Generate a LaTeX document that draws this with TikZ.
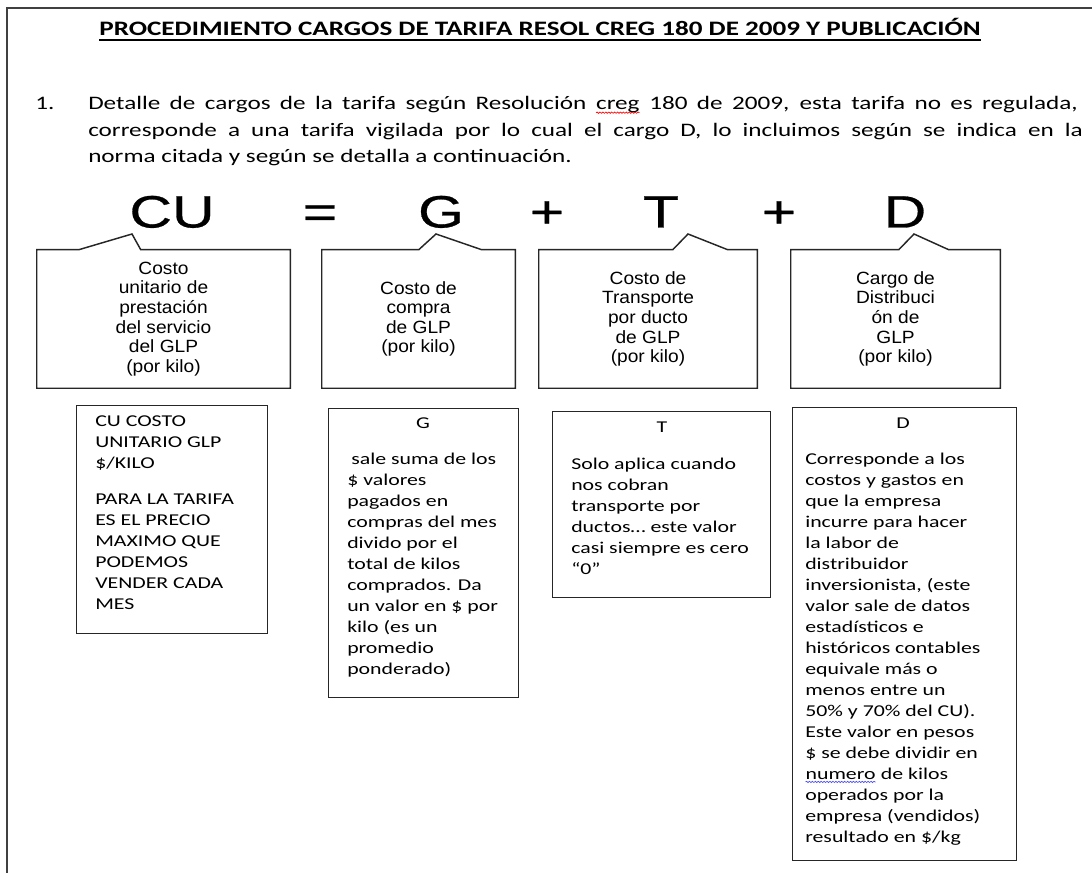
\documentclass[tikz,border=0pt]{standalone}
\usepackage{fontspec}
\setmainfont{Carlito}[FakeStretch=1.32]
\newfontfamily\calloutfont{Liberation Sans}[FakeStretch=1.08]
\newfontfamily\eqfont{Liberation Sans}[FakeStretch=1.3,FakeBold=0.6]
\usetikzlibrary{positioning,decorations.pathmorphing}

% wavy spell-check mark under a word
\newcommand\spellmark[2]{\tikz[baseline=(w.base)]{\node[inner sep=0pt,outer sep=0pt] (w) {#2};
  \draw[#1,line width=0.5pt,decorate,decoration={snake,amplitude=0.5pt,segment length=2.2pt}]
    ([yshift=-2pt]w.base west) -- ([yshift=-2pt]w.base east);}}

\begin{document}
\begin{tikzpicture}[x=0.75pt,y=-0.75pt,
    frame/.style={draw=black!75,line width=1.2pt},
    symb/.style={anchor=base,inner sep=0pt,font=\eqfont\fontsize{34}{34}\selectfont},
    callout/.style={align=center,inner sep=0pt,font=\calloutfont\fontsize{13.3}{14.7}\selectfont},
    calloutline/.style={draw=black!85,line width=1.1pt},
    notebox/.style={draw=black!85,line width=0.9pt,anchor=north west,inner sep=0pt},
    notehead/.style={anchor=base,inner sep=0pt,font=\fontsize{12.4}{15.75}\selectfont},
    notetext/.style={anchor=north west,align=left,inner sep=0pt,font=\fontsize{12.4}{15.75}\selectfont},
    partext/.style={anchor=base west,inner sep=0pt,font=\fontsize{14.3}{19.9}\selectfont}]

\useasboundingbox (0,0) rectangle (1092,873);
\draw[frame] (7,873) -- (7,8) -- (1092,8);

% title
\node[anchor=base,inner sep=0pt,font=\bfseries\fontsize{15.4}{18}\selectfont] (title) at (540,36)
  {PROCEDIMIENTO CARGOS DE TARIFA RESOL CREG 180 DE 2009 Y PUBLICACIÓN};
\draw[line width=0.8pt] ([yshift=-3pt]title.base west) -- ([yshift=-3pt]title.base east);

% point 1
\node[partext] (num) at (35,110) {1.};
\node[partext] (par1) at (88,110) {\makebox[742pt][s]{Detalle de cargos de la tarifa según Resolución \spellmark{red}{creg} 180 de 2009, esta tarifa no es regulada,}};
\node[partext] (par2) at (88,136.5) {\makebox[746pt][s]{corresponde a una tarifa vigilada por lo cual el cargo D, lo incluimos según se indica en la}};
\node[partext] (par3) at (88,163) {norma citada y según se detalla a continuación.};

% formula
\node[symb] (cuSym) at (172,227.5) {CU};
\node[symb] (eqSym) at (320,227.5) {=};
\node[symb] (gSym) at (441,227.5) {G};
\node[symb] (plusA) at (547,227.5) {+};
\node[symb] (tSym) at (661,227.5) {T};
\node[symb] (plusB) at (779,227.5) {+};
\node[symb] (dSym) at (905,227.5) {D};

% callouts
\node[callout,minimum width=189.75pt,minimum height=103.5pt] (cuCall) at (163.5,319)
  {Costo\\unitario de\\prestación\\del servicio\\del GLP\\(por kilo)};
\coordinate (cuTip) at (132,234);
\path (cuCall.north west) ++(42,0) coordinate (cuL) ++(62,0) coordinate (cuR);
\draw[calloutline] (cuCall.north west) -- (cuL) -- (cuTip) -- (cuR) -- (cuCall.north east)
  -- (cuCall.south east) -- (cuCall.south west) -- cycle;

\node[callout,minimum width=144.75pt,minimum height=103.5pt] (gCall) at (418.5,319)
  {Costo de\\compra\\de GLP\\(por kilo)};
\coordinate (gTip) at (436,234);
\path (gCall.north west) ++(97,0) coordinate (gL) ++(63,0) coordinate (gR);
\draw[calloutline] (gCall.north west) -- (gL) -- (gTip) -- (gR) -- (gCall.north east)
  -- (gCall.south east) -- (gCall.south west) -- cycle;

\node[callout,minimum width=163.5pt,minimum height=103.5pt] (tCall) at (648,319)
  {Costo de\\Transporte\\por ducto\\de GLP\\(por kilo)};
\coordinate (tTip) at (688,234);
\path (tCall.north west) ++(134,0) coordinate (tL) ++(55,0) coordinate (tR);
\draw[calloutline] (tCall.north west) -- (tL) -- (tTip) -- (tR) -- (tCall.north east)
  -- (tCall.south east) -- (tCall.south west) -- cycle;

\node[callout,minimum width=156.75pt,minimum height=103.5pt] (dCall) at (895.5,319)
  {Cargo de\\Distribuci\\ón de\\GLP\\(por kilo)};
\coordinate (dTip) at (914,234);
\path (dCall.north west) ++(108,0) coordinate (dL) ++(50,0) coordinate (dR);
\draw[calloutline] (dCall.north west) -- (dL) -- (dTip) -- (dR) -- (dCall.north east)
  -- (dCall.south east) -- (dCall.south west) -- cycle;

% notes
\node[notebox,minimum width=143.25pt,minimum height=171pt] (cuNote) at (76,405) {};
\node[notetext] (cuNoteText) at (95,415.5)
  {CU COSTO\\UNITARIO GLP\\\$/KILO\\[11.25pt]PARA LA TARIFA\\ES EL PRECIO\\MAXIMO QUE\\PODEMOS\\VENDER CADA\\MES};

\node[notebox,minimum width=142.5pt,minimum height=216.75pt] (gNote) at (328,408) {};
\node[notehead] (gHead) at (423,428) {G};
\node[notetext] (gNoteText) at (347,452.5)
  {\hspace{3pt}sale suma de los\\\$ valores\\pagados en\\compras del mes\\divido por el\\total de kilos\\comprados. Da\\un valor en \$ por\\kilo (es un\\promedio\\ponderado)};

\node[notebox,minimum width=163.5pt,minimum height=139.5pt] (tNote) at (552,411) {};
\node[notehead] (tHead) at (662,432) {T};
\node[notetext] (tNoteText) at (571,457.5)
  {Solo aplica cuando\\nos cobran\\transporte por\\ductos… este valor\\casi siempre es cero\\“0”};

\node[notebox,minimum width=168pt,minimum height=339.75pt] (dNote) at (792,407) {};
\node[notehead] (dHead) at (903,428) {D};
\node[notetext] (dNoteText) at (805,452.5)
  {Corresponde a los\\costos y gastos en\\que la empresa\\incurre para hacer\\la labor de\\distribuidor\\inversionista, (este\\valor sale de datos\\estadísticos e\\históricos contables\\equivale más o\\menos entre un\\50\% y 70\% del CU).\\Este valor en pesos\\\$ se debe dividir en\\\spellmark{blue!70}{numero} de kilos\\operados por la\\empresa (vendidos)\\resultado en \$/kg};
\end{tikzpicture}
\end{document}
